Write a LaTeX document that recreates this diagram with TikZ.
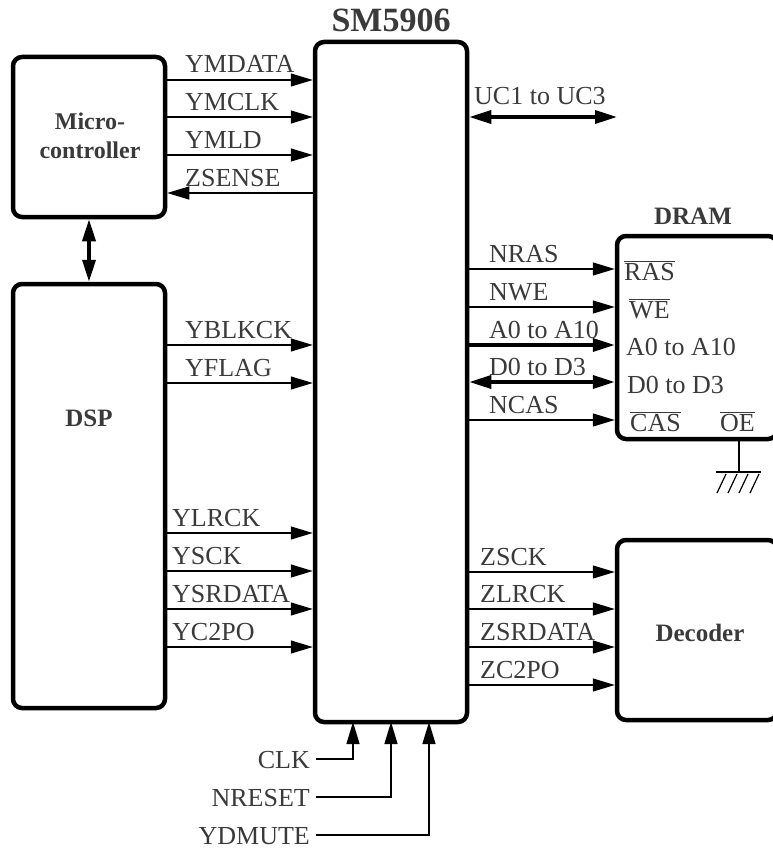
\documentclass[tikz,border=0pt]{standalone}
\usepackage{fontspec}
\setmainfont{Liberation Serif}
\usetikzlibrary{arrows.meta}
\definecolor{txt}{HTML}{3A3A3A}
\tikzset{
  blk/.style={draw=black, line width=4.5pt, rounded corners=9pt},
  sig/.style={line width=1.4pt, -{Triangle[length=22pt,width=13pt]}},
  bus/.style={line width=3.6pt, -{Triangle[length=22pt,width=13pt]}},
  dbus/.style={line width=3.6pt, {Triangle[length=22pt,width=13pt]}-{Triangle[length=22pt,width=13pt]}},
  lbl/.style={text=txt, inner sep=0pt, anchor=base west, font=\fontsize{26}{28}\selectfont},
  lblr/.style={text=txt, inner sep=0pt, anchor=base east, font=\fontsize{26}{28}\selectfont},
  btitle/.style={text=txt, inner sep=0pt, font=\fontsize{25}{28}\selectfont\bfseries, align=center},
  gnd/.style={line width=1.4pt}
}
\begin{document}
\begin{tikzpicture}[x=1pt,y=-1pt]
\useasboundingbox (0,0) rectangle (773,851);
% boxes
\node[blk, minimum width=152pt, minimum height=680pt, inner sep=0pt] (sm) at (391,382) {};
\node[btitle, font=\fontsize{34}{36}\selectfont\bfseries, anchor=base] (smt) at (391,32) {SM5906};
\node[blk, minimum width=152pt, minimum height=160pt, inner sep=0pt] (mc) at (89,137) {};
\node[btitle, font=\fontsize{24}{28.5}\selectfont\bfseries] (mct) at (90,136) {Micro-\\controller};
\node[blk, minimum width=152pt, minimum height=424pt, inner sep=0pt] (dsp) at (89,496) {};
\node[btitle] (dspt) at (89,418) {DSP};
\node[blk, minimum width=160pt, minimum height=203pt, inner sep=0pt] (dram) at (697,337.5) {};
\node[btitle, anchor=base] (dramt) at (693,224) {DRAM};
\node[blk, minimum width=160pt, minimum height=180pt, inner sep=0pt] (dec) at (697,630) {};
\node[btitle] (dect) at (700,633) {Decoder};

% micro <-> dsp
\draw[dbus] (mc.south) -- (dsp.north);

% micro signals
\foreach \y/\t in {80/YMDATA, 117/YMCLK, 155/YMLD} {
  \draw[sig] (mc.east |- 0,\y) -- (sm.west |- 0,\y);
  \node[lbl] at (185,\y-7) {\t};
}
\draw[sig] (sm.west |- 0,193) -- (mc.east |- 0,193);
\node[lbl] at (185,186) {ZSENSE};

% dsp signals
\foreach \y/\t in {345/YBLKCK, 383/YFLAG} {
  \draw[sig] (dsp.east |- 0,\y) -- (sm.west |- 0,\y);
  \node[lbl] at (185,\y-7) {\t};
}
\foreach \y/\t in {533/YLRCK, 571/YSCK, 609/YSRDATA, 647/YC2PO} {
  \draw[sig] (dsp.east |- 0,\y) -- (sm.west |- 0,\y);
  \node[lbl] at (172,\y-7) {\t};
}

% UC
\coordinate (ucend) at (617,117);
\draw[dbus] (sm.east |- 0,117) -- (ucend);
\node[lbl] at (474,104) {UC1 to UC3};

% DRAM signals
\draw[sig] (sm.east |- 0,269) -- (dram.west |- 0,269);
\node[lbl] at (489,262) {NRAS};
\draw[sig] (sm.east |- 0,307) -- (dram.west |- 0,307);
\node[lbl] at (489,300) {NWE};
\draw[bus] (sm.east |- 0,345) -- (dram.west |- 0,345);
\node[lbl] at (489,338) {A0 to A10};
\draw[dbus] (sm.east |- 0,382) -- (dram.west |- 0,382);
\node[lbl] at (489,375) {D0 to D3};
\draw[sig] (sm.east |- 0,420) -- (dram.west |- 0,420);
\node[lbl] at (489,413) {NCAS};

% DRAM pin labels
\node[lbl] at (624,280) {$\overline{\mbox{RAS}}$};
\node[lbl] at (629,318) {$\overline{\mbox{WE}}$};
\node[lbl] at (626,355) {A0 to A10};
\node[lbl] at (627,393) {D0 to D3};
\node[lbl] at (630,431) {$\overline{\mbox{CAS}}$};
\node[lbl] at (720,431) {$\overline{\mbox{OE}}$};

% ground
\coordinate (g0) at (739,439);
\coordinate (g1) at (739,472);
\draw[gnd] (g0) -- (g1);
\draw[gnd] (716,472) -- (761,472);
\foreach \x in {726,737,748,759} \draw[line width=1.2pt] (\x,474) -- (\x-9,493);

% decoder signals
\foreach \y/\t in {572/ZSCK, 609/ZLRCK, 647/ZSRDATA, 685/ZC2PO} {
  \draw[sig] (sm.east |- 0,\y) -- (dec.west |- 0,\y);
  \node[lbl] at (480,\y-7) {\t};
}

% bottom inputs
\node[lblr] (clk) at (310,768) {CLK};
\node[lblr] (nrst) at (310,806) {NRESET};
\node[lblr] (ydm) at (310,844) {YDMUTE};
\draw[sig] (clk.east |- 0,759) ++(6,0) -| (353,722);
\draw[sig] (nrst.east |- 0,797) ++(6,0) -| (391,722);
\draw[sig] (ydm.east |- 0,835) ++(6,0) -| (429,722);
\end{tikzpicture}
\end{document}
